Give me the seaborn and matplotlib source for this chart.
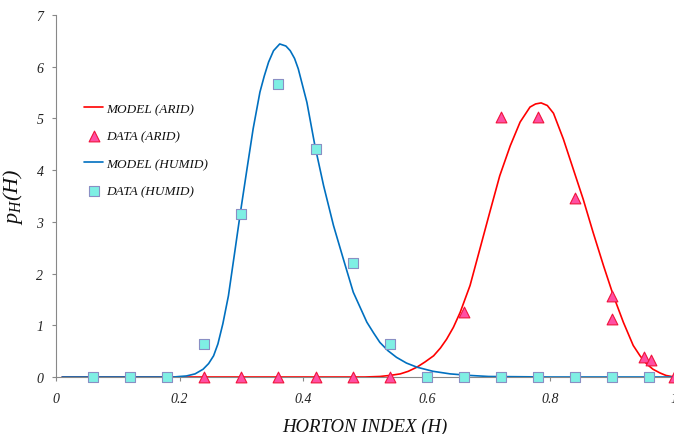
import matplotlib
matplotlib.use("Agg")
import matplotlib.pyplot as plt
import seaborn as sns
import pandas as pd

# Model curves (probability density of the Horton index)
model_arid_h = [0.01, 0.40, 0.50, 0.524, 0.540, 0.557, 0.570, 0.584, 0.597, 0.611,
                0.622, 0.632, 0.643, 0.654, 0.670, 0.686, 0.702, 0.718, 0.735, 0.751,
                0.767, 0.776, 0.785, 0.795, 0.805, 0.821, 0.837, 0.853, 0.869, 0.886,
                0.902, 0.918, 0.934, 0.945, 0.956, 0.966, 0.977, 0.987, 0.996, 1.0]
model_arid_p = [0.0, 0.0, 0.0, 0.01, 0.03, 0.06, 0.11, 0.19, 0.29, 0.41,
                0.56, 0.73, 0.96, 1.25, 1.77, 2.48, 3.19, 3.89, 4.47, 4.93,
                5.22, 5.28, 5.30, 5.25, 5.10, 4.60, 4.02, 3.44, 2.80, 2.15,
                1.57, 1.06, 0.61, 0.41, 0.25, 0.15, 0.08, 0.03, 0.01, 0.0]

model_humid_h = [0.01, 0.10, 0.19, 0.20, 0.211, 0.225, 0.238, 0.247, 0.255, 0.262,
                 0.270, 0.279, 0.290, 0.298, 0.309, 0.319, 0.330, 0.337, 0.344, 0.352,
                 0.362, 0.372, 0.379, 0.386, 0.392, 0.406, 0.419, 0.433, 0.449, 0.465,
                 0.481, 0.503, 0.514, 0.524, 0.537, 0.551, 0.567, 0.584, 0.610, 0.638,
                 0.670, 0.70, 0.80, 1.0]
model_humid_p = [0.0, 0.0, 0.0, 0.01, 0.02, 0.06, 0.15, 0.26, 0.41, 0.64,
                 1.03, 1.57, 2.48, 3.15, 4.02, 4.80, 5.51, 5.82, 6.09, 6.31,
                 6.44, 6.40, 6.31, 6.16, 5.96, 5.31, 4.47, 3.70, 2.93, 2.28,
                 1.64, 1.06, 0.85, 0.67, 0.51, 0.38, 0.27, 0.19, 0.11, 0.06,
                 0.03, 0.01, 0.0, 0.0]

# Observed histograms
data_arid_h = [0.24, 0.30, 0.36, 0.42, 0.48, 0.54, 0.66, 0.72, 0.78, 0.84,
               0.90, 0.90, 0.952, 0.963, 1.0]
data_arid_p = [0.0, 0.0, 0.0, 0.0, 0.0, 0.0, 1.25, 5.02, 5.02, 3.46,
               1.56, 1.13, 0.38, 0.32, 0.0]

data_humid_h = [0.06, 0.12, 0.18, 0.24, 0.30, 0.36, 0.42, 0.48, 0.54, 0.60,
                0.66, 0.72, 0.78, 0.84, 0.90, 0.96]
data_humid_p = [0.0, 0.0, 0.0, 0.64, 3.15, 5.67, 4.41, 2.20, 0.64, 0.0,
                0.0, 0.0, 0.0, 0.0, 0.0, 0.0]

x_ticks = [0, 0.2, 0.4, 0.6, 0.8, 1.0]
x_tick_labels = ["0", "0.2", "0.4", "0.6", "0.8", "1"]
y_ticks = [0, 1, 2, 3, 4, 5, 6, 7]

sns.set_style("white")
plt.rcParams["font.family"] = ["Liberation Serif", "DejaVu Serif"]
plt.rcParams["font.style"] = "italic"
plt.rcParams["mathtext.fontset"] = "custom"
plt.rcParams["mathtext.it"] = "Liberation Serif:italic"
plt.rcParams["mathtext.rm"] = "Liberation Serif:italic"

RED = "#FF0000"
BLUE = "#0070C0"
GRAY = "#888888"

fig = plt.figure(figsize=(6.74, 4.35), dpi=100)
ax = fig.add_axes([56 / 674, 57 / 435, 618 / 674, 362 / 435])

arid_model = pd.DataFrame({"H": model_arid_h, "p": model_arid_p})
humid_model = pd.DataFrame({"H": model_humid_h, "p": model_humid_p})
arid_data = pd.DataFrame({"H": data_arid_h, "p": data_arid_p})
humid_data = pd.DataFrame({"H": data_humid_h, "p": data_humid_p})

line_kw = dict(sort=False, estimator=None, linewidth=1.2, zorder=2)
sns.lineplot(data=arid_model, x="H", y="p", ax=ax, color=RED,
             label="MODEL (ARID)", **line_kw)
sns.scatterplot(data=arid_data, x="H", y="p", ax=ax, marker="^", s=60,
                color="#FF4FA3", edgecolor="#F0143C", linewidth=0.8,
                label="DATA (ARID)", zorder=3, clip_on=False)
sns.lineplot(data=humid_model, x="H", y="p", ax=ax, color=BLUE,
             label="MODEL (HUMID)", **line_kw)
sns.scatterplot(data=humid_data, x="H", y="p", ax=ax, marker="s", s=50,
                color="#7FEFE4", edgecolor="#8A8FC4", linewidth=0.8,
                label="DATA (HUMID)", zorder=3, clip_on=False)

for ln in ax.get_lines():
    ln.set_solid_joinstyle("round")
    ln.set_solid_capstyle("round")

ax.set_xlim(0, 1)
ax.set_ylim(0, 7)
ax.set_xticks(x_ticks)
ax.set_xticklabels(x_tick_labels)
ax.set_yticks(y_ticks)

for side in ("top", "right"):
    ax.spines[side].set_visible(False)
for side in ("left", "bottom"):
    ax.spines[side].set_color(GRAY)
    ax.spines[side].set_linewidth(0.8)

ax.tick_params(axis="both", which="major", direction="out", length=3,
               width=0.8, color=GRAY, labelsize=10, labelcolor="#222222")
ax.tick_params(axis="y", pad=6)
ax.tick_params(axis="x", pad=8)
ax.tick_params(left=True, bottom=True)

ax.set_xlabel("HORTON INDEX (H)", fontsize=13.5, labelpad=9, color="#111111")
ax.set_ylabel(r"$p_H(H)$", fontsize=16, labelpad=8, color="#111111")

handles, labels = ax.get_legend_handles_labels()
leg = ax.legend(handles, labels, loc="center left",
                bbox_to_anchor=(84 / 674, 1 - 151 / 435),
                bbox_transform=fig.transFigure, frameon=False,
                fontsize=9.5, labelspacing=1.15, handlelength=1.45,
                handletextpad=0.2, borderpad=0, borderaxespad=0,
                scatterpoints=1)
for t in leg.get_texts():
    t.set_color("#111111")

fig.savefig("out.png", dpi=100)
